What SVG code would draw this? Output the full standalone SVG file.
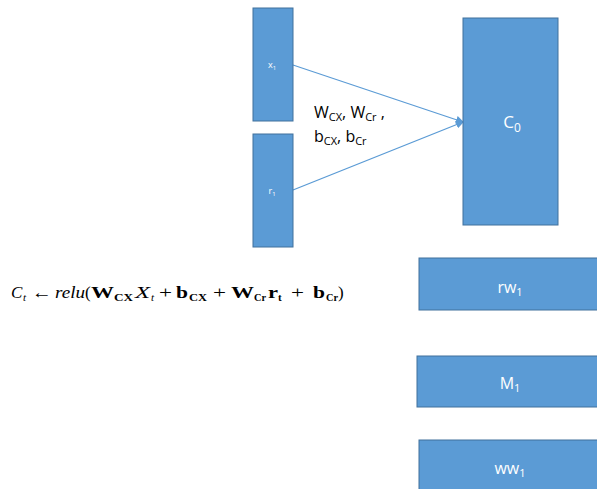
<svg xmlns="http://www.w3.org/2000/svg" width="597" height="489" viewBox="0 0 597 489">
  <style>
    .box { fill: #5B9BD5; stroke: #41719C; stroke-width: 1; }
    .lbl { fill: #ffffff; font-family: "Open Sans", "Liberation Sans", sans-serif; text-anchor: middle; }
    .wt { fill: #000000; font-family: "Open Sans", "Liberation Sans", sans-serif; font-size: 16px; }
    .eq { fill: #000000; font-family: "Liberation Serif", "DejaVu Serif", serif; font-size: 17px; }
    .sub { font-size: 11px; }
    .it { font-style: italic; }
    .bd { font-weight: bold; }
    .conn { stroke: #5B9BD5; stroke-width: 1.2; fill: none; }
  </style>
  <defs>
    <marker id="arrow" markerWidth="8" markerHeight="8" refX="7" refY="4" orient="auto" markerUnits="userSpaceOnUse">
      <path d="M0,0 L8,4 L0,8 z" fill="#5B9BD5"/>
    </marker>
  </defs>

  <rect width="597" height="489" fill="#ffffff"/>

  <g id="connectors">
    <line class="conn" x1="293" y1="65" x2="463" y2="122" marker-end="url(#arrow)"/>
    <line class="conn" x1="293" y1="190" x2="463" y2="122" marker-end="url(#arrow)"/>
  </g>

  <g id="x1">
    <rect class="box" x="253" y="8" width="40" height="113"/>
    <text class="lbl" x="272" y="68" font-size="9">x<tspan font-size="6" dy="2">1</tspan></text>
  </g>

  <g id="r1">
    <rect class="box" x="253" y="134" width="40" height="113"/>
    <text class="lbl" x="272" y="194" font-size="9">r<tspan font-size="6" dy="2">1</tspan></text>
  </g>

  <g id="c0">
    <rect class="box" x="463" y="18" width="95" height="207"/>
    <text class="lbl" x="512" y="128" font-size="17">C<tspan font-size="12" dy="4">0</tspan></text>
  </g>

  <g id="weights">
    <text class="wt" x="314" y="118">W<tspan font-size="11" dy="3">CX</tspan><tspan dy="-3">, W</tspan><tspan font-size="11" dy="3">Cr</tspan><tspan dy="-3"> ,</tspan></text>
    <text class="wt" x="314" y="142">b<tspan font-size="11" dy="3">CX</tspan><tspan dy="-3">, b</tspan><tspan font-size="11" dy="3">Cr</tspan></text>
  </g>

  <!-- update rule, each piece placed on its own x -->
  <g id="equation" class="eq">
    <text x="11" y="298" class="it">C</text>
    <text x="23" y="301" class="it sub">t</text>
    <text x="32" y="298" textLength="20" lengthAdjust="spacingAndGlyphs">←</text>
    <text x="55" y="298" class="it" textLength="30" lengthAdjust="spacingAndGlyphs">relu</text>
    <text x="85" y="298">(</text>
    <text x="91" y="298" class="bd" textLength="23" lengthAdjust="spacingAndGlyphs">W</text>
    <text x="114" y="301" class="bd sub" textLength="19" lengthAdjust="spacingAndGlyphs">CX</text>
    <text x="135" y="298" class="it" textLength="15" lengthAdjust="spacingAndGlyphs">X</text>
    <text x="151" y="301" class="it sub">t</text>
    <text x="159" y="298" textLength="13" lengthAdjust="spacingAndGlyphs">+</text>
    <text x="176" y="298" class="bd" textLength="12" lengthAdjust="spacingAndGlyphs">b</text>
    <text x="189" y="301" class="bd sub" textLength="18" lengthAdjust="spacingAndGlyphs">CX</text>
    <text x="213" y="298" textLength="13" lengthAdjust="spacingAndGlyphs">+</text>
    <text x="231" y="298" class="bd" textLength="23" lengthAdjust="spacingAndGlyphs">W</text>
    <text x="254" y="301" class="bd sub" textLength="12" lengthAdjust="spacingAndGlyphs">Cr</text>
    <text x="268" y="298" class="bd" textLength="10" lengthAdjust="spacingAndGlyphs">r</text>
    <text x="278" y="301" class="bd sub">t</text>
    <text x="291" y="298" textLength="13" lengthAdjust="spacingAndGlyphs">+</text>
    <text x="313" y="298" class="bd" textLength="12" lengthAdjust="spacingAndGlyphs">b</text>
    <text x="326" y="301" class="bd sub" textLength="12" lengthAdjust="spacingAndGlyphs">Cr</text>
    <text x="338" y="298">)</text>
  </g>

  <g id="rw1">
    <rect class="box" x="419" y="258" width="185" height="52"/>
    <text class="lbl" x="510" y="293" font-size="16">rw<tspan font-size="11" dy="3">1</tspan></text>
  </g>

  <g id="m1">
    <rect class="box" x="417" y="356" width="187" height="51"/>
    <text class="lbl" x="510" y="389" font-size="16">M<tspan font-size="11" dy="3">1</tspan></text>
  </g>

  <g id="ww1">
    <rect class="box" x="419" y="440" width="185" height="60"/>
    <text class="lbl" x="510" y="474" font-size="16">ww<tspan font-size="11" dy="3">1</tspan></text>
  </g>
</svg>
